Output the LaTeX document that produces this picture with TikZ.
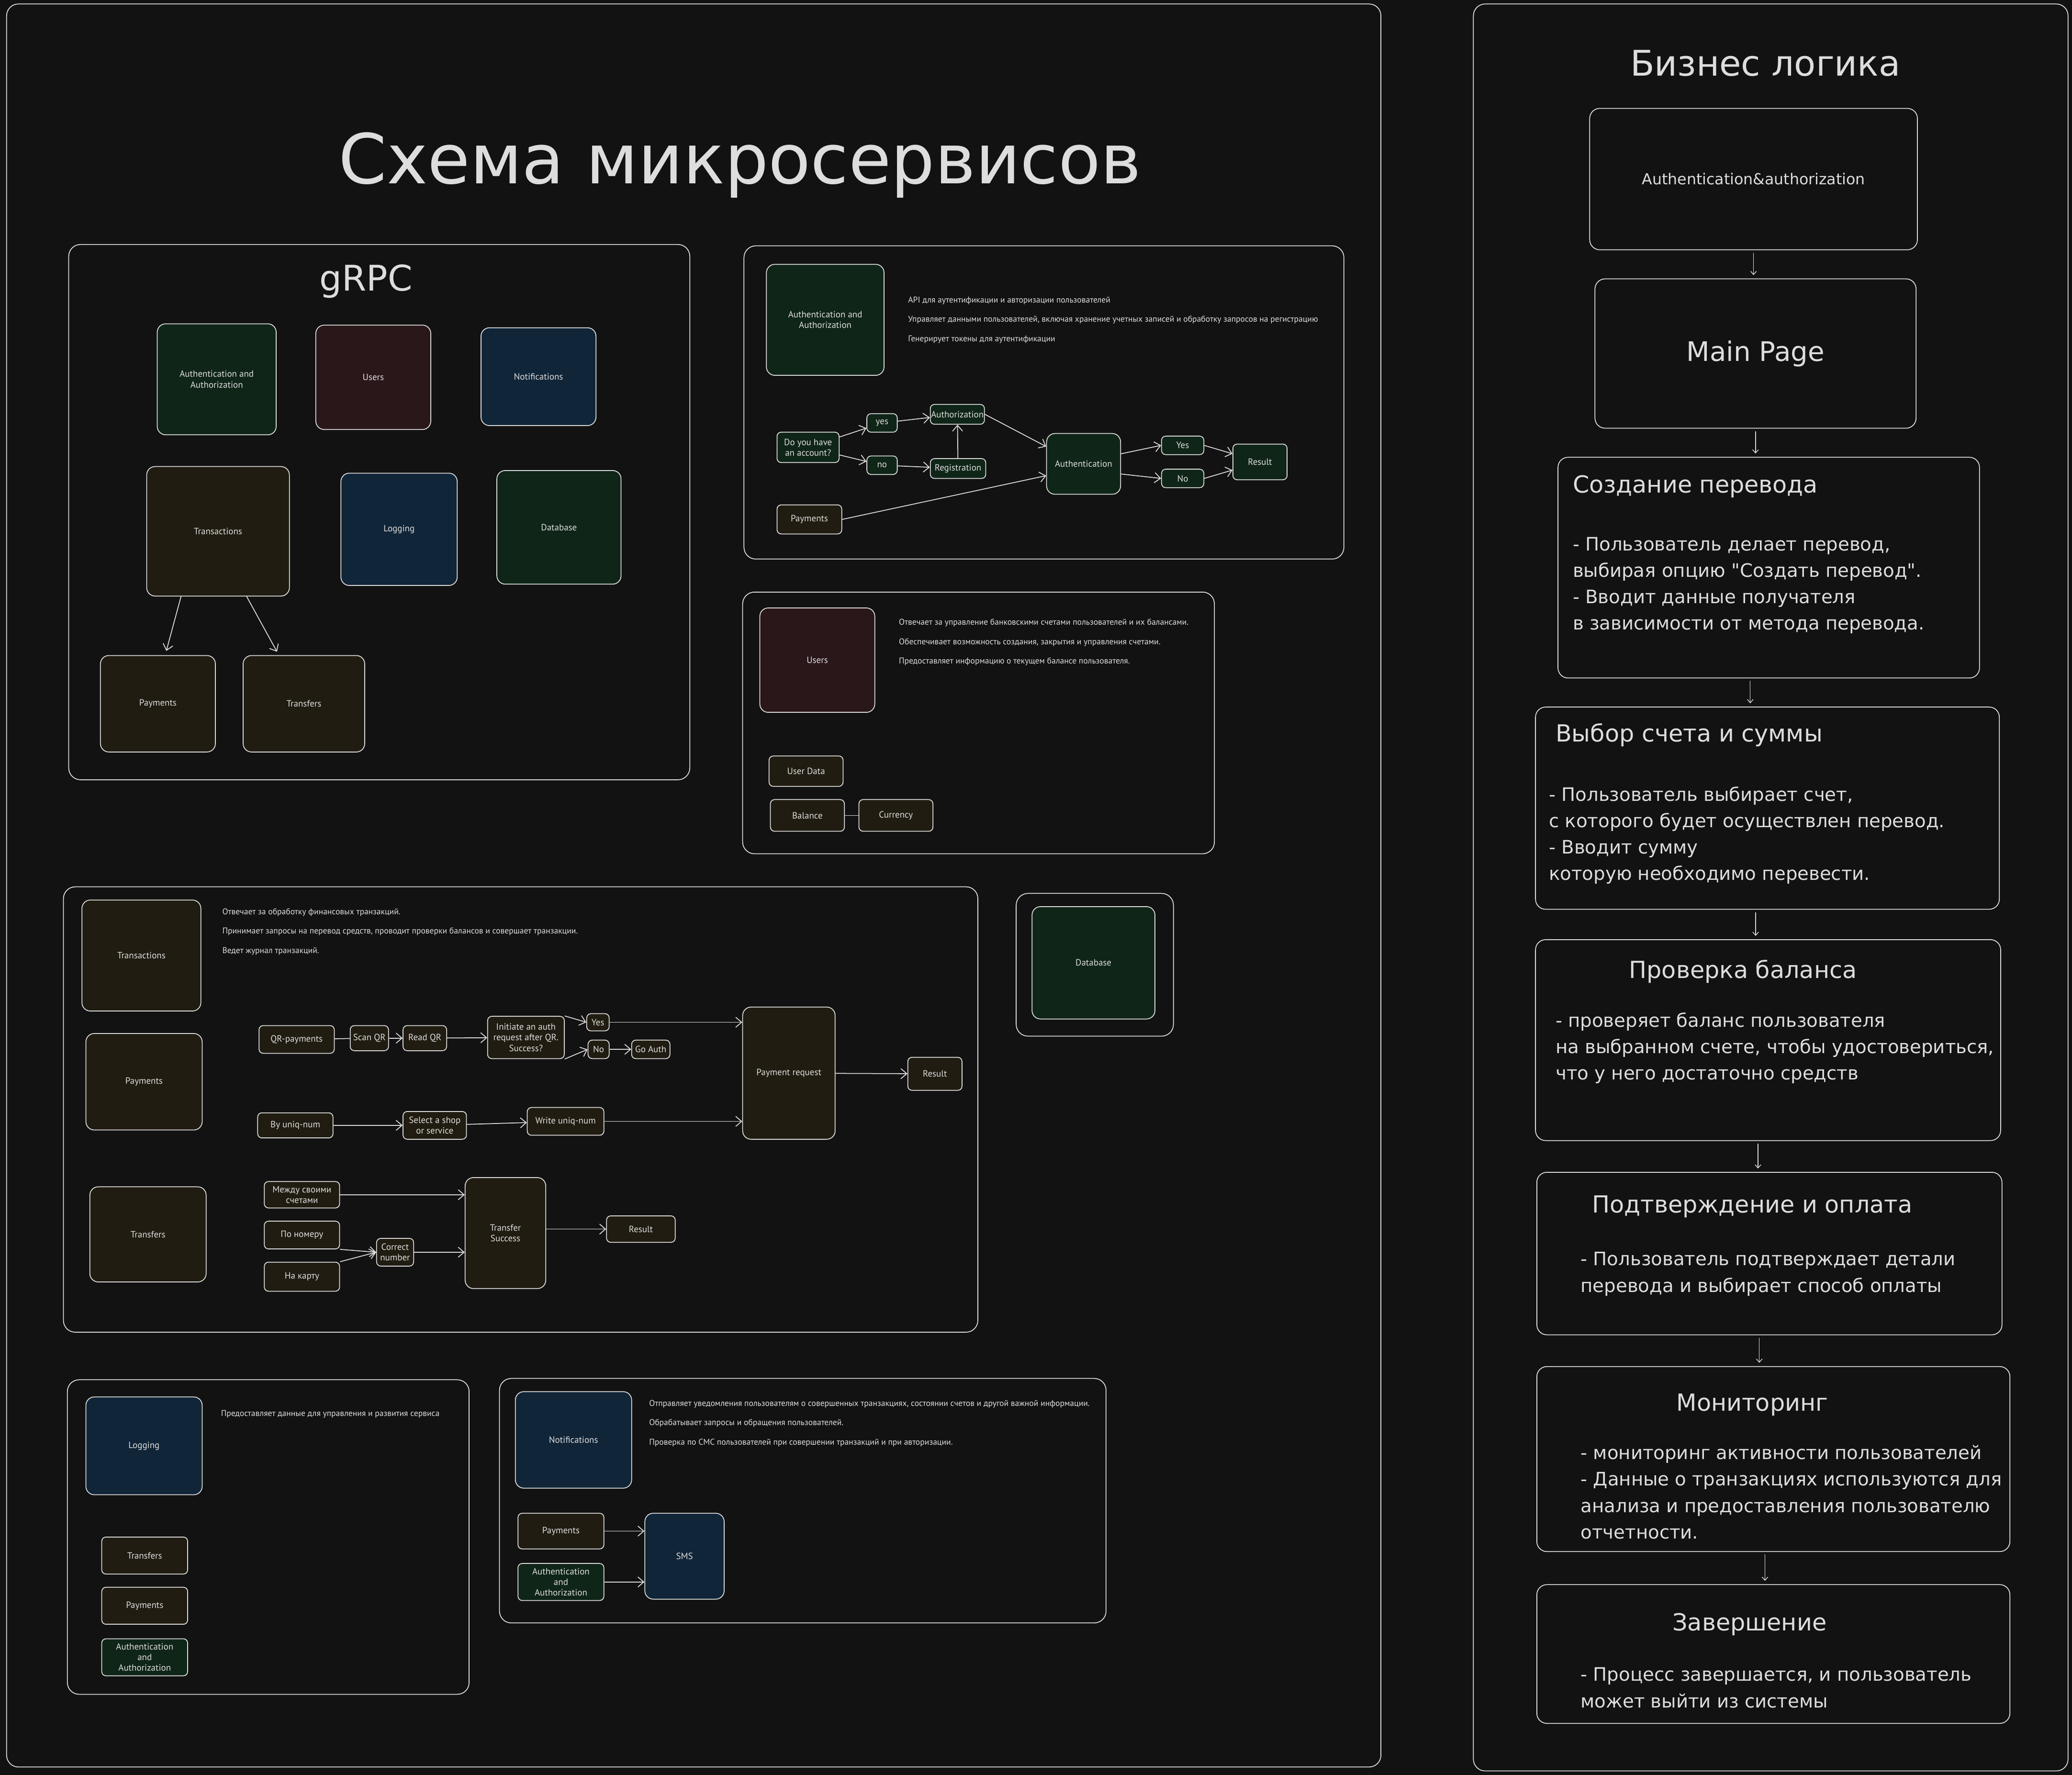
\documentclass[tikz,border=0pt]{standalone}
\usepackage{fontspec}
\setmainfont{PT Sans}
\newfontfamily\handfont{DejaVu Sans}
\usetikzlibrary{fit,arrows.meta}

\definecolor{bg}{HTML}{121212}
\definecolor{ink}{HTML}{DDDDDD}
\definecolor{authfill}{HTML}{0F2518}
\definecolor{userfill}{HTML}{2A171A}
\definecolor{notefill}{HTML}{112538}
\definecolor{moneyfill}{HTML}{211C11}

\begin{document}
\begin{tikzpicture}[x=0.2761mm, y=-0.2761mm, color=ink,
    font=\fontsize{5.4}{6.3}\selectfont,
    dims/.style 2 args={minimum width=#1*0.2761mm, minimum height=#2*0.2761mm},
    frame/.style={draw=ink, line width=0.5pt, rounded corners=7pt, inner sep=0pt},
    svc/.style={draw=ink, line width=0.5pt, rounded corners=5pt, inner sep=0pt, align=center},
    tag/.style={svc, rounded corners=2.5pt},
    stage/.style={draw=ink, line width=0.5pt, rounded corners=6pt, inner sep=0pt, align=center},
    auth/.style={fill=authfill},
    user/.style={fill=userfill},
    note/.style={fill=notefill},
    money/.style={fill=moneyfill},
    desc/.style={font=\fontsize{5}{11.5}\selectfont, align=left, anchor=west, inner sep=0pt},
    head/.style={font=\handfont\fontsize{14}{16}\selectfont, inner sep=0pt},
    body/.style={font=\handfont\fontsize{11}{15.7}\selectfont, align=left, anchor=west, inner sep=0pt},
    arr/.style={draw=ink, line width=0.5pt, -{Straight Barb[length=3.5pt,width=6pt]}},
    tip/.style={draw=ink, line width=0.4pt, shorten <=1.5pt, shorten >=2pt, -{Straight Barb[length=2pt,width=3.5pt]}}]

    \fill[bg] (0,0) rectangle (1568,1343);
    \useasboundingbox (0,0) rectangle (1568,1343);

    % services
    \node (board) [frame, fit={(5,3) (1045,1337)}] {};
    \node (title) at (560,125) [font=\handfont\fontsize{41}{41}\selectfont] {Схема микросервисов};

    \node (grpc) [frame, fit={(52,185) (522,590)}] {};
    \node (grpct) at (277,213) [font=\handfont\fontsize{21}{21}\selectfont] {gRPC};
    \node (gauth) [svc, auth, dims={90}{84}] at (164,287) {Authentication and\\Authorization};
    \node (gusers) [svc, user, dims={87}{79}] at (282.5,285.5) {Users};
    \node (gnotes) [svc, note, dims={87}{74}] at (407.5,285) {Notifications};
    \node (gtx) [svc, money, dims={108}{98}] at (165,402) {Transactions};
    \node (glog) [svc, note, dims={88}{85}] at (302,400.5) {Logging};
    \node (gdb) [svc, auth, dims={94}{86}] at (423,399) {Database};
    \node (gpay) [svc, money, dims={87}{73}] at (119.5,532.5) {Payments};
    \node (gtr) [svc, money, dims={92}{73}] at (230,532.5) {Transfers};
    \draw[arr] ([xshift=-22pt]gtx.south) -- ([xshift=5pt,yshift=2.5pt]gpay.north);
    \draw[arr] ([xshift=17pt]gtx.south) -- ([xshift=-16pt,yshift=2pt]gtr.north);

    % auth
    \node (authbox) [frame, fit={(563,186) (1017,423)}] {};
    \node (aserv) [svc, auth, dims={89}{84}] at (624.5,242) {Authentication and\\Authorization};
    \node (adesc) [desc] at (687,242) {API для аутентификации и авторизации пользователей\\Управляет данными пользователей, включая хранение учетных записей и обработку запросов на регистрацию\\Генерирует токены для аутентификации};
    \node (ask) [tag, auth, dims={47}{23}] at (611.5,338.5) {Do you have\\an account?};
    \node (yes) [tag, auth, dims={23}{14}] at (667.5,320) {yes};
    \node (no) [tag, auth, dims={23}{14}] at (667.5,352) {no};
    \node (authz) [tag, auth, dims={41}{15}] at (724.5,313.5) {Authorization};
    \node (reg) [tag, auth, dims={42}{15}] at (725,354.5) {Registration};
    \node (authn) [svc, auth, dims={56}{46}] at (820,351) {Authentication};
    \node (ok) [tag, auth, dims={32}{14}] at (895,337) {Yes};
    \node (fail) [tag, auth, dims={32}{14}] at (895,362) {No};
    \node (res) [tag, auth, dims={41}{27}] at (953.5,349.5) {Result};
    \node (apay) [tag, money, dims={49}{22}] at (612.5,393) {Payments};
    \draw[arr] (ask) -- (yes);
    \draw[arr] (ask) -- (no);
    \draw[arr] (yes) -- (authz);
    \draw[arr] (no) -- (reg);
    \draw[arr] (reg) -- (authz);
    \draw[arr] (authz.east) -- ([yshift=-8pt]authn.north west);
    \draw[arr] ([yshift=6pt]authn.east) -- (ok.west);
    \draw[arr] ([yshift=-6pt]authn.east) -- (fail.west);
    \draw[arr] (ok.east) -- (res);
    \draw[arr] (fail.east) -- (res);
    \draw[arr] (apay.east) -- ([yshift=-7pt]authn.west);

    % users
    \node (userbox) [frame, fit={(562,448) (919,646)}] {};
    \node (userv) [svc, user, dims={87}{79}] at (618.5,499.5) {Users};
    \node (udesc) [desc] at (680,486) {Отвечает за управление банковскими счетами пользователей и их балансами.\\Обеспечивает возможность создания, закрытия и управления счетами.\\Предоставляет информацию о текущем балансе пользователя.};
    \node (udata) [tag, money, dims={56}{23}] at (610,583.5) {User Data};
    \node (bal) [tag, money, dims={56}{24}] at (611,617) {Balance};
    \node (cur) [tag, money, dims={56}{24}] at (678,617) {Currency};
    \draw[line width=0.5pt] (bal) -- (cur);

    % database
    \node (dbbox) [frame, fit={(769,676) (888,784)}] {};
    \node (dbserv) [svc, auth, dims={93}{85}] at (827.5,728.5) {Database};

    % transactions
    \node (txbox) [frame, fit={(48,671) (740,1008)}] {};
    \node (txserv) [svc, money, dims={90}{84}] at (107,723) {Transactions};
    \node (payserv) [svc, money, dims={88}{73}] at (109,818.5) {Payments};
    \node (trserv) [svc, money, dims={88}{72}] at (112,934) {Transfers};
    \node (txdesc) [desc] at (168,705) {Отвечает за обработку финансовых транзакций.\\Принимает запросы на перевод средств, проводит проверки балансов и совершает транзакции.\\Ведет журнал транзакций.};
    \node (qr) [tag, money, dims={57}{21}] at (224.5,786.5) {QR-payments};
    \node (scan) [tag, money, dims={29}{19}] at (279.5,785.5) {Scan QR};
    \node (read) [tag, money, dims={33}{19}] at (321.5,785.5) {Read QR};
    \node (init) [tag, money, dims={58}{32}] at (398,785) {Initiate an auth\\request after QR.\\Success?};
    \node (qyes) [tag, money, dims={17}{13}] at (452.5,773.5) {Yes};
    \node (qno) [tag, money, dims={16}{14}] at (453,794) {No};
    \node (goauth) [tag, money, dims={29}{14}] at (492.5,794) {Go Auth};
    \node (preq) [svc, money, dims={70}{100}] at (597,812) {Payment request};
    \node (pres) [tag, money, dims={41}{25}] at (707.5,812.5) {Result};
    \node (uniq) [tag, money, dims={57}{19}] at (223.5,851.5) {By uniq-num};
    \node (shop) [tag, money, dims={48}{21}] at (329,851.5) {Select a shop\\or service};
    \node (write) [tag, money, dims={58}{21}] at (428,848.5) {Write uniq-num};
    \draw[line width=0.5pt] (qr) -- (scan);
    \draw[arr] (scan) -- (read);
    \draw[arr] (read) -- (init);
    \draw[arr] (init.north east) -- (qyes.west);
    \draw[arr] (init.south east) -- (qno.west);
    \draw[arr] (qno) -- (goauth);
    \draw[arr] (qyes.east) -- (qyes.east -| preq.west);
    \draw[arr] (preq) -- (pres);
    \draw[arr] (uniq.east) -- (shop.west);
    \draw[arr] (shop) -- (write);
    \draw[arr] (write.east) -- (write.east -| preq.west);

    \node (own) [tag, money, dims={57}{20}] at (228.5,904) {Между своими\\счетами};
    \node (phone) [tag, money, dims={57}{21}] at (228.5,934.5) {По номеру};
    \node (card) [tag, money, dims={57}{22}] at (228.5,966) {На карту};
    \node (check) [tag, money, dims={28}{21}] at (299,947.5) {Correct\\number};
    \node (tdone) [svc, money, dims={61}{84}] at (382.5,933) {Transfer\\Success};
    \node (tres) [tag, money, dims={52}{20}] at (485,930) {Result};
    \draw[arr] (own.east) -- (own.east -| tdone.west);
    \draw[arr] (phone.south east) -- (check.west);
    \draw[arr] (card.north east) -- (check.west);
    \draw[arr] (check.east) -- (check.east -| tdone.west);
    \draw[arr] (tdone.east |- tres.west) -- (tres.west);

    % logging
    \node (logbox) [frame, fit={(51,1044) (355,1282)}] {};
    \node (logserv) [svc, note, dims={88}{74}] at (109,1094) {Logging};
    \node (logdesc) [desc] at (167,1070) {Предоставляет данные для управления и развития сервиса};
    \node (ltr) [tag, money, dims={65}{28}] at (109.5,1177) {Transfers};
    \node (lpay) [tag, money, dims={65}{28}] at (109.5,1215) {Payments};
    \node (lauth) [tag, auth, dims={65}{28}] at (109.5,1254) {Authentication\\and\\Authorization};

    % notifications
    \node (notebox) [frame, fit={(378,1043) (837,1228)}] {};
    \node (noteserv) [svc, note, dims={88}{73}] at (434,1089.5) {Notifications};
    \node (notedesc) [desc] at (491,1077) {Отправляет уведомления пользователям о совершенных транзакциях, состоянии счетов и другой важной информации.\\Обрабатывает запросы и обращения пользователей.\\Проверка по СМС пользователей при совершении транзакций и при авторизации.};
    \node (npay) [tag, money, dims={65}{27}] at (424.5,1158.5) {Payments};
    \node (nauth) [tag, auth, dims={65}{28}] at (424.5,1197) {Authentication\\and\\Authorization};
    \node (sms) [svc, note, dims={60}{65}] at (518,1177.5) {SMS};
    \draw[arr] (npay.east) -- (npay.east -| sms.west);
    \draw[arr] (nauth.east) -- (nauth.east -| sms.west);

    % business logic
    \node (logic) [frame, fit={(1115,3) (1565,1340)}] {};
    \node (logict) at (1336,48) [font=\handfont\fontsize{21}{21}\selectfont] {Бизнес логика};
    \node (rauth) [stage, dims={248}{107}, font=\handfont\fontsize{9}{9}\selectfont] at (1327,135.5) {Authentication\&authorization};
    \node (rmain) [stage, dims={243}{113}, font=\handfont\fontsize{16}{16}\selectfont] at (1328.5,267.5) {Main Page};
    \node (rcreate) [stage, fit={(1179,346) (1498,513)}] {};
    \node (rcreatet) [head, anchor=west] at (1190,368) {Создание перевода};
    \node (rcreateb) [body] at (1190,443) {- Пользователь делает перевод,\\выбирая опцию "Создать перевод".\\- Вводит данные получателя\\в зависимости от метода перевода.};
    \node (rpick) [stage, fit={(1162,535) (1513,688)}] {};
    \node (rpickt) [head, anchor=west] at (1177,556) {Выбор счета и суммы};
    \node (rpickb) [body] at (1172,632) {- Пользователь выбирает счет,\\с которого будет осуществлен перевод.\\- Вводит сумму\\которую необходимо перевести.};
    \node (rcheck) [stage, fit={(1162,711) (1514,863)}] {};
    \node (rcheckt) [head] at (1319,735) {Проверка баланса};
    \node (rcheckb) [body] at (1177,793) {- проверяет баланс пользователя\\на выбранном счете, чтобы удостовериться,\\что у него достаточно средств};
    \node (rpay) [stage, fit={(1163,887) (1515,1010)}] {};
    \node (rpayt) [head] at (1326,913) {Подтверждение и оплата};
    \node (rpayb) [body] at (1196,964) {- Пользователь подтверждает детали\\перевода и выбирает способ оплаты};
    \node (rwatch) [stage, fit={(1163,1034) (1521,1174)}] {};
    \node (rwatcht) [head] at (1326,1063) {Мониторинг};
    \node (rwatchb) [body] at (1196,1129) {- мониторинг активности пользователей\\- Данные о транзакциях используются для\\анализа и предоставления пользователю\\отчетности.};
    \node (rend) [stage, fit={(1163,1199) (1521,1304)}] {};
    \node (rendt) [head] at (1324,1229) {Завершение};
    \node (rendb) [body] at (1196,1277) {- Процесс завершается, и пользователь\\может выйти из системы};

    \draw[tip] (rauth.south) -- (rauth.south |- rmain.north);
    \draw[tip] (rmain.south) -- (rmain.south |- rcreate.north);
    \draw[tip] ([xshift=-11pt]rcreate.south) -- ([xshift=-11pt]rcreate.south |- rpick.north);
    \draw[tip] ([xshift=-7pt]rpick.south) -- ([xshift=-7pt]rpick.south |- rcheck.north);
    \draw[tip] ([xshift=-6pt]rcheck.south) -- ([xshift=-6pt]rcheck.south |- rpay.north);
    \draw[tip] ([xshift=-6pt]rpay.south) -- ([xshift=-6pt]rpay.south |- rwatch.north);
    \draw[tip] ([xshift=-5pt]rwatch.south) -- ([xshift=-5pt]rwatch.south |- rend.north);
\end{tikzpicture}
\end{document}
